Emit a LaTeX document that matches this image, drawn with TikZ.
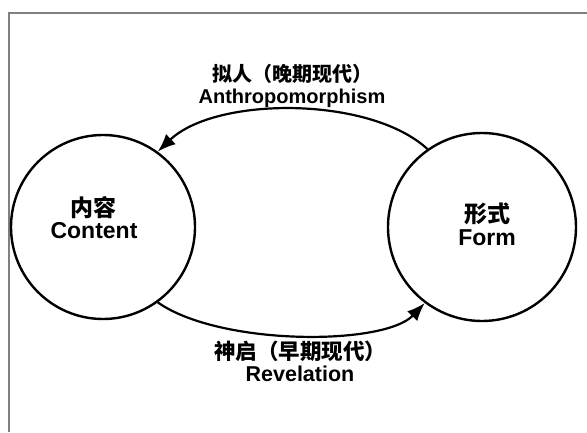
\documentclass[tikz,border=0pt]{standalone}
\usepackage{fontspec}
\setmainfont{Liberation Sans}
\newfontfamily\cjk{Noto Sans CJK SC}
\usetikzlibrary{arrows.meta}

\begin{document}
\begin{tikzpicture}[x=1pt, y=-1pt,
    bubble/.style={circle, draw, line width=2.4pt, minimum size=#1, inner sep=0pt},
    lbl/.style={align=center, inner sep=0pt},
    flow/.style={line width=2.2pt, -{Latex[length=18pt,width=14pt]}}]
  \useasboundingbox (0,0) rectangle (587,432);
  \draw[black!50, line width=1.5pt] (9,432) -- (9,13) -- (587,13);

  % the two circles
  \node[bubble=184pt] (content) at (103,227) {};
  \node[bubble=188pt] (form) at (482,227) {};

  \node[lbl, font=\bfseries\fontsize{23}{22}\selectfont] (contentlbl) at (94,218)
    {{\cjk 内容}\\Content};
  \node[lbl, font=\bfseries\fontsize{23}{23}\selectfont] (formlbl) at (487,224)
    {{\cjk 形式}\\Form};

  % arcs between them
  \draw[flow] (form.125) .. controls (370,96) and (216,96) .. (content.54);
  \draw[flow] (content.-54) .. controls (220,346) and (384,346) .. (form.-127);

  \node[lbl, font=\bfseries\fontsize{20}{22}\selectfont] (upper) at (292,86)
    {{\cjk 拟人（晚期现代）}\\Anthropomorphism};
  \node[lbl, font=\bfseries\fontsize{21.5}{22}\selectfont] (lower) at (300,361)
    {{\cjk 神启（早期现代）}\\Revelation};
\end{tikzpicture}
\end{document}
